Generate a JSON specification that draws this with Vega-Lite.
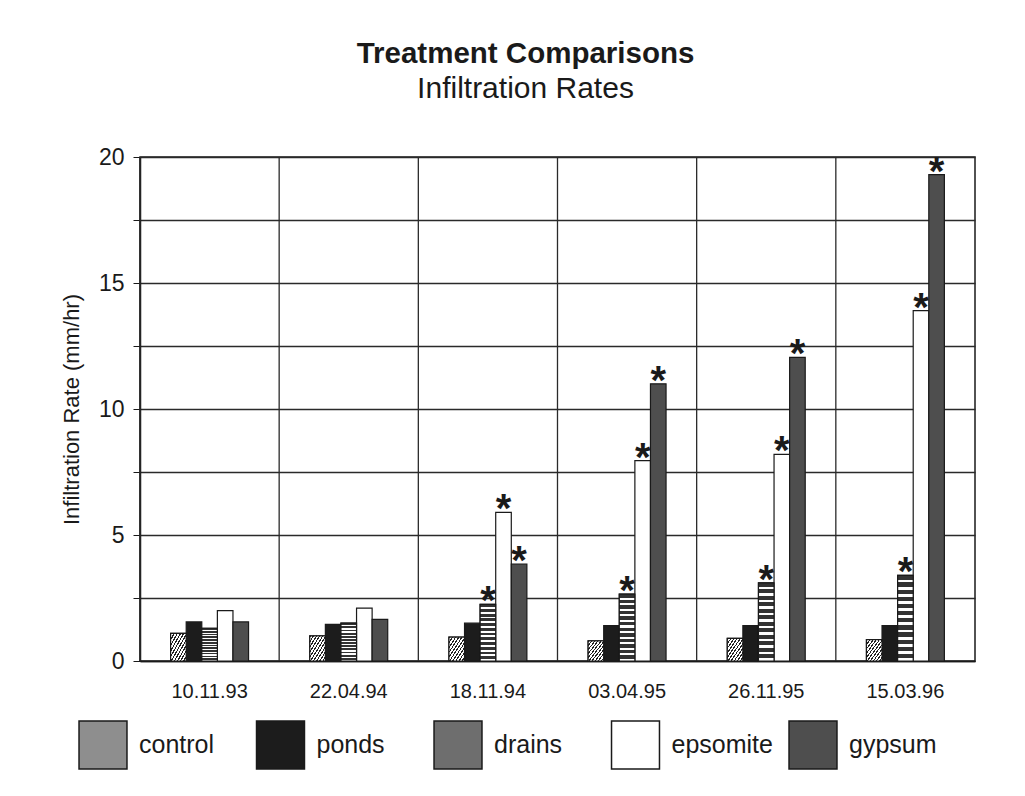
{
  "$schema": "https://vega.github.io/schema/vega-lite/v6.json",
  "width": 835,
  "height": 504,
  "padding": {"left": 60, "top": 38, "right": 45, "bottom": 20},
  "background": "white",
  "config": {
    "font": "Liberation Sans",
    "view": {"stroke": "#1a1a1a", "strokeWidth": 1.5},
    "axis": {"labelColor": "#1a1a1a", "titleColor": "#1a1a1a", "domainColor": "#1a1a1a", "tickColor": "#1a1a1a", "gridColor": "#2a2a2a"}
  },
  "title": {
    "text": "Treatment Comparisons",
    "subtitle": "Infiltration Rates",
    "fontSize": 29.5,
    "fontWeight": "bold",
    "subtitleFontSize": 30,
    "subtitleColor": "#1a1a1a",
    "color": "#1a1a1a",
    "subtitlePadding": 5,
    "offset": 41,
    "dx": -32,
    "anchor": "middle"
  },
  "datasets": {
    "dates": [
      {"date": "10.11.93"}, {"date": "22.04.94"}, {"date": "18.11.94"},
      {"date": "03.04.95"}, {"date": "26.11.95"}, {"date": "15.03.96"}
    ],
    "bars": [
      {"date": "10.11.93", "treatment": "control", "rate": 1.1, "sig": false},
      {"date": "10.11.93", "treatment": "ponds", "rate": 1.55, "sig": false},
      {"date": "10.11.93", "treatment": "drains", "rate": 1.3, "sig": false},
      {"date": "10.11.93", "treatment": "epsomite", "rate": 2.0, "sig": false},
      {"date": "10.11.93", "treatment": "gypsum", "rate": 1.55, "sig": false},
      {"date": "22.04.94", "treatment": "control", "rate": 1.0, "sig": false},
      {"date": "22.04.94", "treatment": "ponds", "rate": 1.45, "sig": false},
      {"date": "22.04.94", "treatment": "drains", "rate": 1.5, "sig": false},
      {"date": "22.04.94", "treatment": "epsomite", "rate": 2.1, "sig": false},
      {"date": "22.04.94", "treatment": "gypsum", "rate": 1.65, "sig": false},
      {"date": "18.11.94", "treatment": "control", "rate": 0.95, "sig": false},
      {"date": "18.11.94", "treatment": "ponds", "rate": 1.5, "sig": false},
      {"date": "18.11.94", "treatment": "drains", "rate": 2.25, "sig": true},
      {"date": "18.11.94", "treatment": "epsomite", "rate": 5.9, "sig": true},
      {"date": "18.11.94", "treatment": "gypsum", "rate": 3.85, "sig": true},
      {"date": "03.04.95", "treatment": "control", "rate": 0.8, "sig": false},
      {"date": "03.04.95", "treatment": "ponds", "rate": 1.4, "sig": false},
      {"date": "03.04.95", "treatment": "drains", "rate": 2.65, "sig": true},
      {"date": "03.04.95", "treatment": "epsomite", "rate": 7.95, "sig": true},
      {"date": "03.04.95", "treatment": "gypsum", "rate": 11.0, "sig": true},
      {"date": "26.11.95", "treatment": "control", "rate": 0.9, "sig": false},
      {"date": "26.11.95", "treatment": "ponds", "rate": 1.4, "sig": false},
      {"date": "26.11.95", "treatment": "drains", "rate": 3.1, "sig": true},
      {"date": "26.11.95", "treatment": "epsomite", "rate": 8.2, "sig": true},
      {"date": "26.11.95", "treatment": "gypsum", "rate": 12.05, "sig": true},
      {"date": "15.03.96", "treatment": "control", "rate": 0.85, "sig": false},
      {"date": "15.03.96", "treatment": "ponds", "rate": 1.4, "sig": false},
      {"date": "15.03.96", "treatment": "drains", "rate": 3.4, "sig": true},
      {"date": "15.03.96", "treatment": "epsomite", "rate": 13.9, "sig": true},
      {"date": "15.03.96", "treatment": "gypsum", "rate": 19.3, "sig": true}
    ]
  },
  "layer": [
    {
      "data": {"name": "bars"},
      "mark": {"type": "bar", "stroke": "#1a1a1a", "strokeWidth": 1.2},
      "encoding": {
        "x": {
          "field": "date", "type": "nominal", "sort": null,
          "scale": {"paddingInner": 0.44, "paddingOuter": 0.22},
          "axis": {"title": null, "labelAngle": 0, "labelAlign": "center", "bandPosition": 0.5, "labelFontSize": 20, "tickSize": 0, "labelPadding": 20, "domainWidth": 1.5, "grid": false}
        },
        "xOffset": {
          "field": "treatment", "type": "nominal",
          "scale": {"domain": ["control", "ponds", "drains", "epsomite", "gypsum"]}
        },
        "y": {
          "field": "rate", "type": "quantitative",
          "scale": {"domain": [0, 20], "nice": false},
          "axis": {
            "title": "Infiltration Rate (mm/hr)",
            "titleFontSize": 22, "titleFontWeight": "normal", "titlePadding": 15,
            "values": [0, 2.5, 5, 7.5, 10, 12.5, 15, 17.5, 20],
            "labelExpr": "datum.value % 5 === 0 ? datum.label : ''",
            "labelFontSize": 23, "labelPadding": 9, "tickSize": 7,
            "grid": true, "gridWidth": 1.3, "domainWidth": 1.5
          }
        },
        "color": {
          "field": "treatment", "type": "nominal",
          "scale": {
            "domain": ["control", "ponds", "drains", "epsomite", "gypsum"],
            "range": ["#8e8e8e", "#1c1c1c", "#6e6e6e", "#ffffff", "#4e4e4e"]
          },
          "legend": {
            "title": null,
            "orient": "none",
            "legendX": -62,
            "legendY": 563,
            "direction": "horizontal",
            "columns": 5,
            "gridAlign": "all",
            "columnPadding": 12.5,
            "symbolType": "square",
            "symbolSize": 2300,
            "symbolStrokeColor": "#1a1a1a",
            "symbolStrokeWidth": 1.5,
            "labelFontSize": 25,
            "labelColor": "#1a1a1a",
            "labelOffset": 11,
            "labelLimit": 200
          }
        }
      }
    },
    {
      "data": {"name": "bars"},
      "transform": [{"filter": "datum.treatment === 'control'"}],
      "mark": {"type": "bar", "stroke": "#1a1a1a", "strokeWidth": 1.2,
        "fill": {"gradient": "linear", "x1": 0, "y1": 0, "x2": 1, "y2": 1, "stops": [
          {"offset": 0, "color": "#222"}, {"offset": 0.04, "color": "#222"}, {"offset": 0.04, "color": "#fff"}, {"offset": 0.1, "color": "#fff"},
          {"offset": 0.1, "color": "#222"}, {"offset": 0.14, "color": "#222"}, {"offset": 0.14, "color": "#fff"}, {"offset": 0.2, "color": "#fff"},
          {"offset": 0.2, "color": "#222"}, {"offset": 0.24, "color": "#222"}, {"offset": 0.24, "color": "#fff"}, {"offset": 0.3, "color": "#fff"},
          {"offset": 0.3, "color": "#222"}, {"offset": 0.34, "color": "#222"}, {"offset": 0.34, "color": "#fff"}, {"offset": 0.4, "color": "#fff"},
          {"offset": 0.4, "color": "#222"}, {"offset": 0.44, "color": "#222"}, {"offset": 0.44, "color": "#fff"}, {"offset": 0.5, "color": "#fff"},
          {"offset": 0.5, "color": "#222"}, {"offset": 0.54, "color": "#222"}, {"offset": 0.54, "color": "#fff"}, {"offset": 0.6, "color": "#fff"},
          {"offset": 0.6, "color": "#222"}, {"offset": 0.64, "color": "#222"}, {"offset": 0.64, "color": "#fff"}, {"offset": 0.7, "color": "#fff"},
          {"offset": 0.7, "color": "#222"}, {"offset": 0.74, "color": "#222"}, {"offset": 0.74, "color": "#fff"}, {"offset": 0.8, "color": "#fff"},
          {"offset": 0.8, "color": "#222"}, {"offset": 0.84, "color": "#222"}, {"offset": 0.84, "color": "#fff"}, {"offset": 0.9, "color": "#fff"},
          {"offset": 0.9, "color": "#222"}, {"offset": 0.94, "color": "#222"}, {"offset": 0.94, "color": "#fff"}, {"offset": 1, "color": "#fff"}
        ]}},
      "encoding": {
        "x": {"field": "date", "type": "nominal", "sort": null},
        "xOffset": {"field": "treatment", "type": "nominal"},
        "y": {"field": "rate", "type": "quantitative"}
      }
    },
    {
      "data": {"name": "bars"},
      "transform": [{"filter": "datum.treatment === 'drains'"}],
      "mark": {"type": "bar", "stroke": "#1a1a1a", "strokeWidth": 1.2,
        "fill": {"gradient": "linear", "x1": 0, "y1": 0, "x2": 0, "y2": 1, "stops": [
          {"offset": 0, "color": "#333"}, {"offset": 0.05, "color": "#333"}, {"offset": 0.05, "color": "#fff"}, {"offset": 0.0833, "color": "#fff"},
          {"offset": 0.0833, "color": "#333"}, {"offset": 0.1333, "color": "#333"}, {"offset": 0.1333, "color": "#fff"}, {"offset": 0.1667, "color": "#fff"},
          {"offset": 0.1667, "color": "#333"}, {"offset": 0.2167, "color": "#333"}, {"offset": 0.2167, "color": "#fff"}, {"offset": 0.25, "color": "#fff"},
          {"offset": 0.25, "color": "#333"}, {"offset": 0.3, "color": "#333"}, {"offset": 0.3, "color": "#fff"}, {"offset": 0.3333, "color": "#fff"},
          {"offset": 0.3333, "color": "#333"}, {"offset": 0.3833, "color": "#333"}, {"offset": 0.3833, "color": "#fff"}, {"offset": 0.4167, "color": "#fff"},
          {"offset": 0.4167, "color": "#333"}, {"offset": 0.4667, "color": "#333"}, {"offset": 0.4667, "color": "#fff"}, {"offset": 0.5, "color": "#fff"},
          {"offset": 0.5, "color": "#333"}, {"offset": 0.55, "color": "#333"}, {"offset": 0.55, "color": "#fff"}, {"offset": 0.5833, "color": "#fff"},
          {"offset": 0.5833, "color": "#333"}, {"offset": 0.6333, "color": "#333"}, {"offset": 0.6333, "color": "#fff"}, {"offset": 0.6667, "color": "#fff"},
          {"offset": 0.6667, "color": "#333"}, {"offset": 0.7167, "color": "#333"}, {"offset": 0.7167, "color": "#fff"}, {"offset": 0.75, "color": "#fff"},
          {"offset": 0.75, "color": "#333"}, {"offset": 0.8, "color": "#333"}, {"offset": 0.8, "color": "#fff"}, {"offset": 0.8333, "color": "#fff"},
          {"offset": 0.8333, "color": "#333"}, {"offset": 0.8833, "color": "#333"}, {"offset": 0.8833, "color": "#fff"}, {"offset": 0.9167, "color": "#fff"},
          {"offset": 0.9167, "color": "#333"}, {"offset": 0.9667, "color": "#333"}, {"offset": 0.9667, "color": "#fff"}, {"offset": 1, "color": "#fff"}
        ]}},
      "encoding": {
        "x": {"field": "date", "type": "nominal", "sort": null},
        "xOffset": {"field": "treatment", "type": "nominal"},
        "y": {"field": "rate", "type": "quantitative"}
      }
    },
    {
      "data": {"name": "bars"},
      "transform": [{"filter": "datum.sig"}],
      "mark": {"type": "text", "text": "*", "fontSize": 40, "fontWeight": "bold", "color": "#1a1a1a", "baseline": "alphabetic", "dy": 10},
      "encoding": {
        "x": {"field": "date", "type": "nominal", "sort": null},
        "xOffset": {"field": "treatment", "type": "nominal"},
        "y": {"field": "rate", "type": "quantitative"}
      }
    },
    {
      "data": {"name": "dates"},
      "mark": {"type": "rule", "color": "#2a2a2a", "strokeWidth": 1.3},
      "encoding": {
        "x": {"field": "date", "type": "nominal", "sort": null, "bandPosition": -0.3929}
      }
    }
  ]
}
